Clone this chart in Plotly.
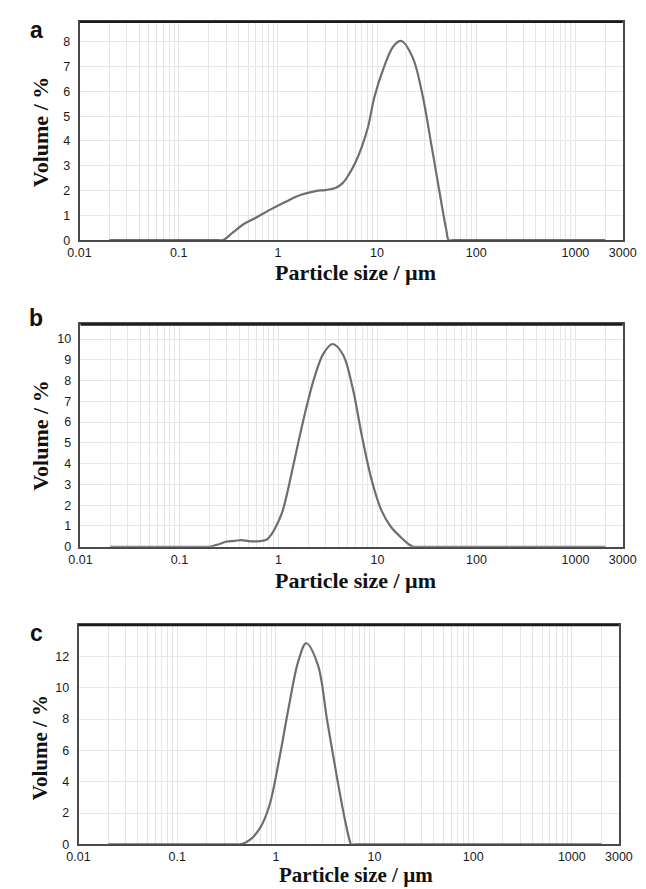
import numpy as np
import plotly.graph_objects as go

# ---------------- data ----------------
a_size = [0.02, 0.25, 0.28, 0.35, 0.45, 0.6, 0.81, 1.2, 1.71, 2.4, 3.0, 3.8, 4.5, 5.2, 6.0, 7.0,
          8.1, 9.39, 11.7, 14.7, 17.6, 22.9, 28.6, 35.6, 44.6, 49.8, 53, 60, 2000]
a_vol = [0, 0, 0, 0.3, 0.64, 0.9, 1.2, 1.55, 1.83, 1.98, 2.02, 2.1, 2.3, 2.65, 3.1, 3.75,
         4.55, 5.76, 6.96, 7.83, 8.03, 7.36, 5.89, 3.76, 1.49, 0.43, 0, 0, 0]

b_size = [0.02, 0.18, 0.2, 0.25, 0.3, 0.36, 0.42, 0.5, 0.6, 0.7, 0.77, 0.85, 0.95, 1.08, 1.2,
          1.47, 1.84, 2.3, 2.87, 3.53, 4.49, 5.61, 7.01, 8.77, 10.96, 13.7, 17.1, 21.4, 23, 26, 2000]
b_vol = [0, 0, 0, 0.12, 0.25, 0.28, 0.32, 0.27, 0.26, 0.29, 0.36, 0.6, 1.0, 1.6, 2.4,
         4.3, 6.37, 8.13, 9.33, 9.76, 9.24, 7.65, 5.26, 3.18, 1.75, 0.95, 0.47, 0.07, 0, 0, 0]

c_size = [0.02, 0.4, 0.44, 0.55, 0.7, 0.86, 1.08, 1.35, 1.69, 2.03, 2.66, 3.31, 4.14, 4.99,
          5.58, 5.8, 6.5, 2000]
c_vol = [0, 0, 0, 0.3, 1.1, 2.48, 5.41, 8.76, 11.7, 12.84, 11.48, 7.92, 4.36, 1.64,
         0.28, 0, 0, 0]

x_tickvals = [0.01, 0.1, 1, 10, 100, 1000, 3000]
x_ticktext = ["0.01", "0.1", "1", "10", "100", "1000", "3000"]
a_yticks = [0, 1, 2, 3, 4, 5, 6, 7, 8]
b_yticks = [0, 1, 2, 3, 4, 5, 6, 7, 8, 9, 10]
c_yticks = [0, 2, 4, 6, 8, 10, 12]
panel_letters = ["a", "b", "c"]
x_title = "Particle size / µm"
y_title = "Volume / %"

# ---------------- layout geometry ----------------
W, H = 646, 889
minor_vals = [m * 10.0 ** k for k in range(-2, 3) for m in range(2, 10)] + [2000]

panels = [
    dict(x=a_size, y=a_vol, yt=a_yticks, yr=[0, 8.8], px=(62, 628), py=(14, 234),
         letter_y=22, xt_y=267, yt_y=125, tsize=22),
    dict(x=b_size, y=b_vol, yt=b_yticks, yr=[0, 10.7], px=(63, 628), py=(319, 543),
         letter_y=312, xt_y=577, yt_y=431, tsize=22),
    dict(x=c_size, y=c_vol, yt=c_yticks, yr=[0, 14.0], px=(61, 624), py=(622, 843),
         letter_y=630, xt_y=874, yt_y=746, tsize=21),
]

fig = go.Figure()
layout = dict(width=W, height=H, margin=dict(l=0, r=0, t=0, b=0),
              paper_bgcolor="white", plot_bgcolor="white", showlegend=False,
              annotations=[], shapes=[])

grid_col = "#e6e6e6"
frame_col = "#4a4a4a"
tick_font = dict(family="Liberation Sans, Arial", size=12.5, color="#1a1a1a")

for i, p in enumerate(panels):
    n = "" if i == 0 else str(i + 1)
    title_font = dict(family="Liberation Serif, Times New Roman", size=p["tsize"], color="#111111")
    fig.add_trace(go.Scatter(
        x=p["x"], y=p["y"], mode="lines",
        line=dict(color="#6e6e6e", width=2.2, shape="spline", smoothing=1.0),
        xaxis="x" + n, yaxis="y" + n, hoverinfo="skip"))
    layout["xaxis" + n] = dict(
        type="log", range=[-2, np.log10(3000)],
        domain=[p["px"][0] / W, p["px"][1] / W], anchor="y" + n,
        tickvals=x_tickvals, ticktext=x_ticktext, ticks="", tickfont=tick_font,
        ticklabelstandoff=0,
        showgrid=True, gridcolor=grid_col, gridwidth=1,
        minor=dict(tickvals=minor_vals, showgrid=True, gridcolor=grid_col, gridwidth=1, ticks=""),
        showline=True, mirror=True, linecolor=frame_col, linewidth=1.6,
        zeroline=False, fixedrange=True)
    layout["yaxis" + n] = dict(
        range=p["yr"], domain=[1 - p["py"][1] / H, 1 - p["py"][0] / H], anchor="x" + n,
        tickvals=p["yt"], ticks="", tickfont=tick_font, ticklabelstandoff=5,
        showgrid=True, gridcolor=grid_col, gridwidth=1,
        showline=True, mirror=True, linecolor=frame_col, linewidth=1.6,
        zeroline=False, fixedrange=True)
    # darker, heavier top edge of the frame as in the scanned figure
    layout["shapes"].append(dict(
        type="line", xref="x" + n + " domain", yref="y" + n + " domain",
        x0=0, x1=1, y0=1, y1=1, line=dict(color="#1a1a1a", width=2.4)))
    layout["annotations"] += [
        dict(text="<b>" + panel_letters[i] + "</b>", x=17 / W, y=1 - p["letter_y"] / H,
             xref="paper", yref="paper", showarrow=False, xanchor="center", yanchor="middle",
             font=dict(family="Liberation Sans, Arial", size=23, color="#111111")),
        dict(text="<b>" + x_title + "</b>", x=350 / W, y=1 - p["xt_y"] / H,
             xref="paper", yref="paper", showarrow=False, xanchor="center", yanchor="middle",
             font=title_font),
        dict(text="<b>" + y_title + "</b>", x=21 / W, y=1 - p["yt_y"] / H, textangle=-90,
             xref="paper", yref="paper", showarrow=False, xanchor="center", yanchor="middle",
             font=title_font),
    ]

fig.update_layout(**layout)
fig.write_html("out.html")
